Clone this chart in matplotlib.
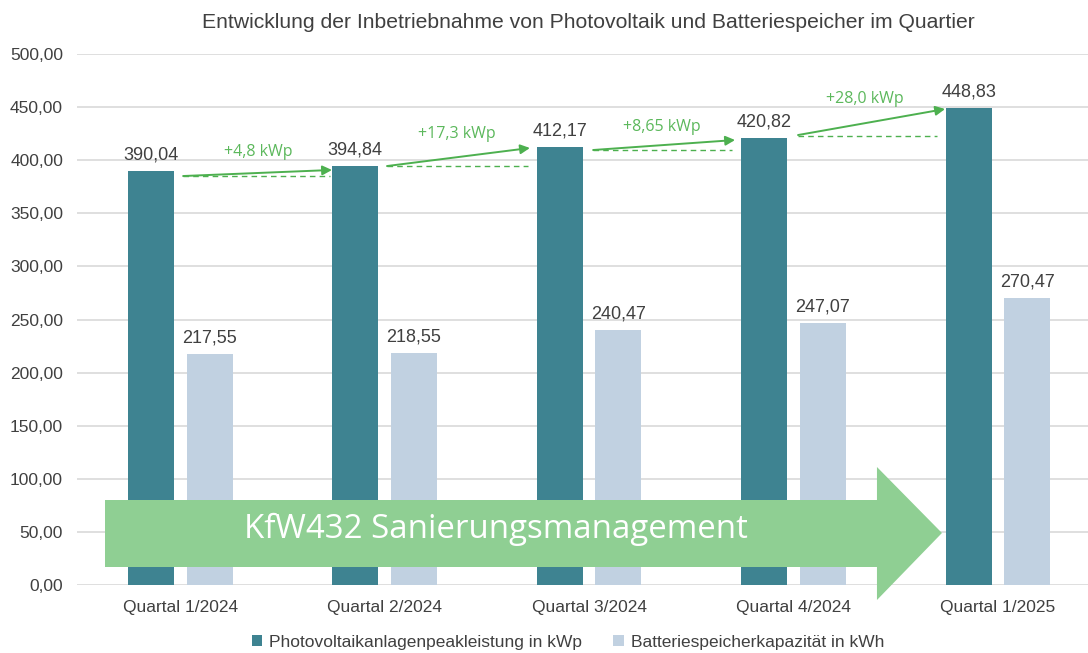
import matplotlib
matplotlib.use("Agg")
import matplotlib.pyplot as plt
from matplotlib.patches import Polygon

plt.rcParams['font.family'] = ['Liberation Sans', 'DejaVu Sans']

categories = ["Quartal 1/2024", "Quartal 2/2024", "Quartal 3/2024", "Quartal 4/2024", "Quartal 1/2025"]
pv_values = [390.04, 394.84, 412.17, 420.82, 448.83]
battery_values = [217.55, 218.55, 240.47, 247.07, 270.47]
series_names = ["Photovoltaikanlagenpeakleistung in kWp", "Batteriespeicherkapazität in kWh"]
increase_labels = ["+4,8 kWp", "+17,3 kWp", "+8,65 kWp", "+28,0 kWp"]
title = "Entwicklung der Inbetriebnahme von Photovoltaik und Batteriespeicher im Quartier"
banner_text = "KfW432 Sanierungsmanagement"

# arrow annotations (start x, start y, end x, end y), dashed baseline, label position
arrow_segments = [
    (0.015, 385.1, 0.743, 390.8),
    (1.012, 394.5, 1.711, 411.5),
    (2.020, 409.6, 2.714, 419.0),
    (3.022, 423.7, 3.741, 448.2),
]
dash_segments = [
    (0.015, 0.735, 385.0),
    (1.012, 1.700, 394.5),
    (2.020, 2.700, 409.6),
    (3.022, 3.700, 422.8),
]
label_pos = [(0.38, 407.7), (1.355, 424.7), (2.357, 431.3), (3.35, 457.6)]

dark = "#3e8391"
light = "#c1d1e1"
green = "#4db04f"
label_green = "#5cb85c"
grid_c = "#d9d9d9"
text_c = "#404040"

fig = plt.figure(figsize=(10.88, 6.53), dpi=100)
ax = fig.add_axes([77/1088, 1-585/653, 1-77/1088, (585-54)/653])

x = list(range(len(categories)))
off = 0.144
w = 0.225
ax.bar([i - off for i in x], pv_values, width=w, color=dark, zorder=2, label=series_names[0])
ax.bar([i + off for i in x], battery_values, width=w, color=light, zorder=2, label=series_names[1])

for i in x:
    ax.text(i - off, pv_values[i] + 7, f"{pv_values[i]:.2f}".replace('.', ','),
            ha='center', va='bottom', fontsize=13, color=text_c, zorder=5)
    ax.text(i + off, battery_values[i] + 7, f"{battery_values[i]:.2f}".replace('.', ','),
            ha='center', va='bottom', fontsize=13, color=text_c, zorder=5)

ax.set_xlim(-0.504, 4.44)
ax.set_ylim(0, 500)
ticks = [0, 50, 100, 150, 200, 250, 300, 350, 400, 450, 500]
ax.set_yticks(ticks)
ax.set_yticklabels([f"{t:.2f}".replace('.', ',') for t in ticks], fontsize=12.5, color=text_c)
ax.set_xticks(x)
ax.set_xticklabels(categories, fontsize=12.5, color=text_c)
ax.tick_params(axis='both', length=0)
ax.tick_params(axis='y', pad=10)
ax.tick_params(axis='x', pad=11)
ax.yaxis.grid(True, color=grid_c, linewidth=1.2, zorder=0)
ax.set_axisbelow(True)
for s in ax.spines.values():
    s.set_visible(False)

# green increase arrows
for (x0, y0, x1, y1), (d0, d1, dy), (lx, ly), lab in zip(arrow_segments, dash_segments, label_pos, increase_labels):
    ax.plot([d0, d1], [dy, dy], color=green, lw=1.0, ls=(0, (4, 3)), zorder=4)
    ax.annotate("", xy=(x1, y1), xytext=(x0, y0),
                arrowprops=dict(arrowstyle="-|>", color=green, lw=1.4,
                                mutation_scale=14, shrinkA=0, shrinkB=0), zorder=4)
    ax.text(lx, ly, lab, ha='center', va='center', fontsize=11.5, color=label_green,
            family=['Open Sans', 'DejaVu Sans'], zorder=5)

# banner arrow (figure pixel coordinates converted to data coordinates)
def px(xp):
    return -0.504 + (xp - 77) / 204.5

def py(yp):
    return (585 - yp) / 1.062

banner = Polygon([
    (px(105), py(500)), (px(877), py(500)), (px(877), py(467)),
    (px(942), py(533)), (px(877), py(600)), (px(877), py(567)),
    (px(105), py(567))
], closed=True, facecolor="#8fcf93", edgecolor='none', zorder=6, clip_on=False)
ax.add_patch(banner)
ax.text(px(496), py(529), banner_text, ha='center', va='center', fontsize=23.8,
        color='white', family=['Open Sans', 'DejaVu Sans'], zorder=7)

fig.text(588/1088, 1-22/653, title, ha='center', va='center', fontsize=15.2, color=text_c)

handles, labels = ax.get_legend_handles_labels()
fig.legend(handles, labels, loc='center', bbox_to_anchor=(568/1088, 1-642/653), ncol=2,
           frameon=False, fontsize=12.5, handlelength=0.6, handleheight=0.6,
           columnspacing=1.8, handletextpad=0.4, labelcolor=text_c)

fig.savefig("out.png", dpi=100)
